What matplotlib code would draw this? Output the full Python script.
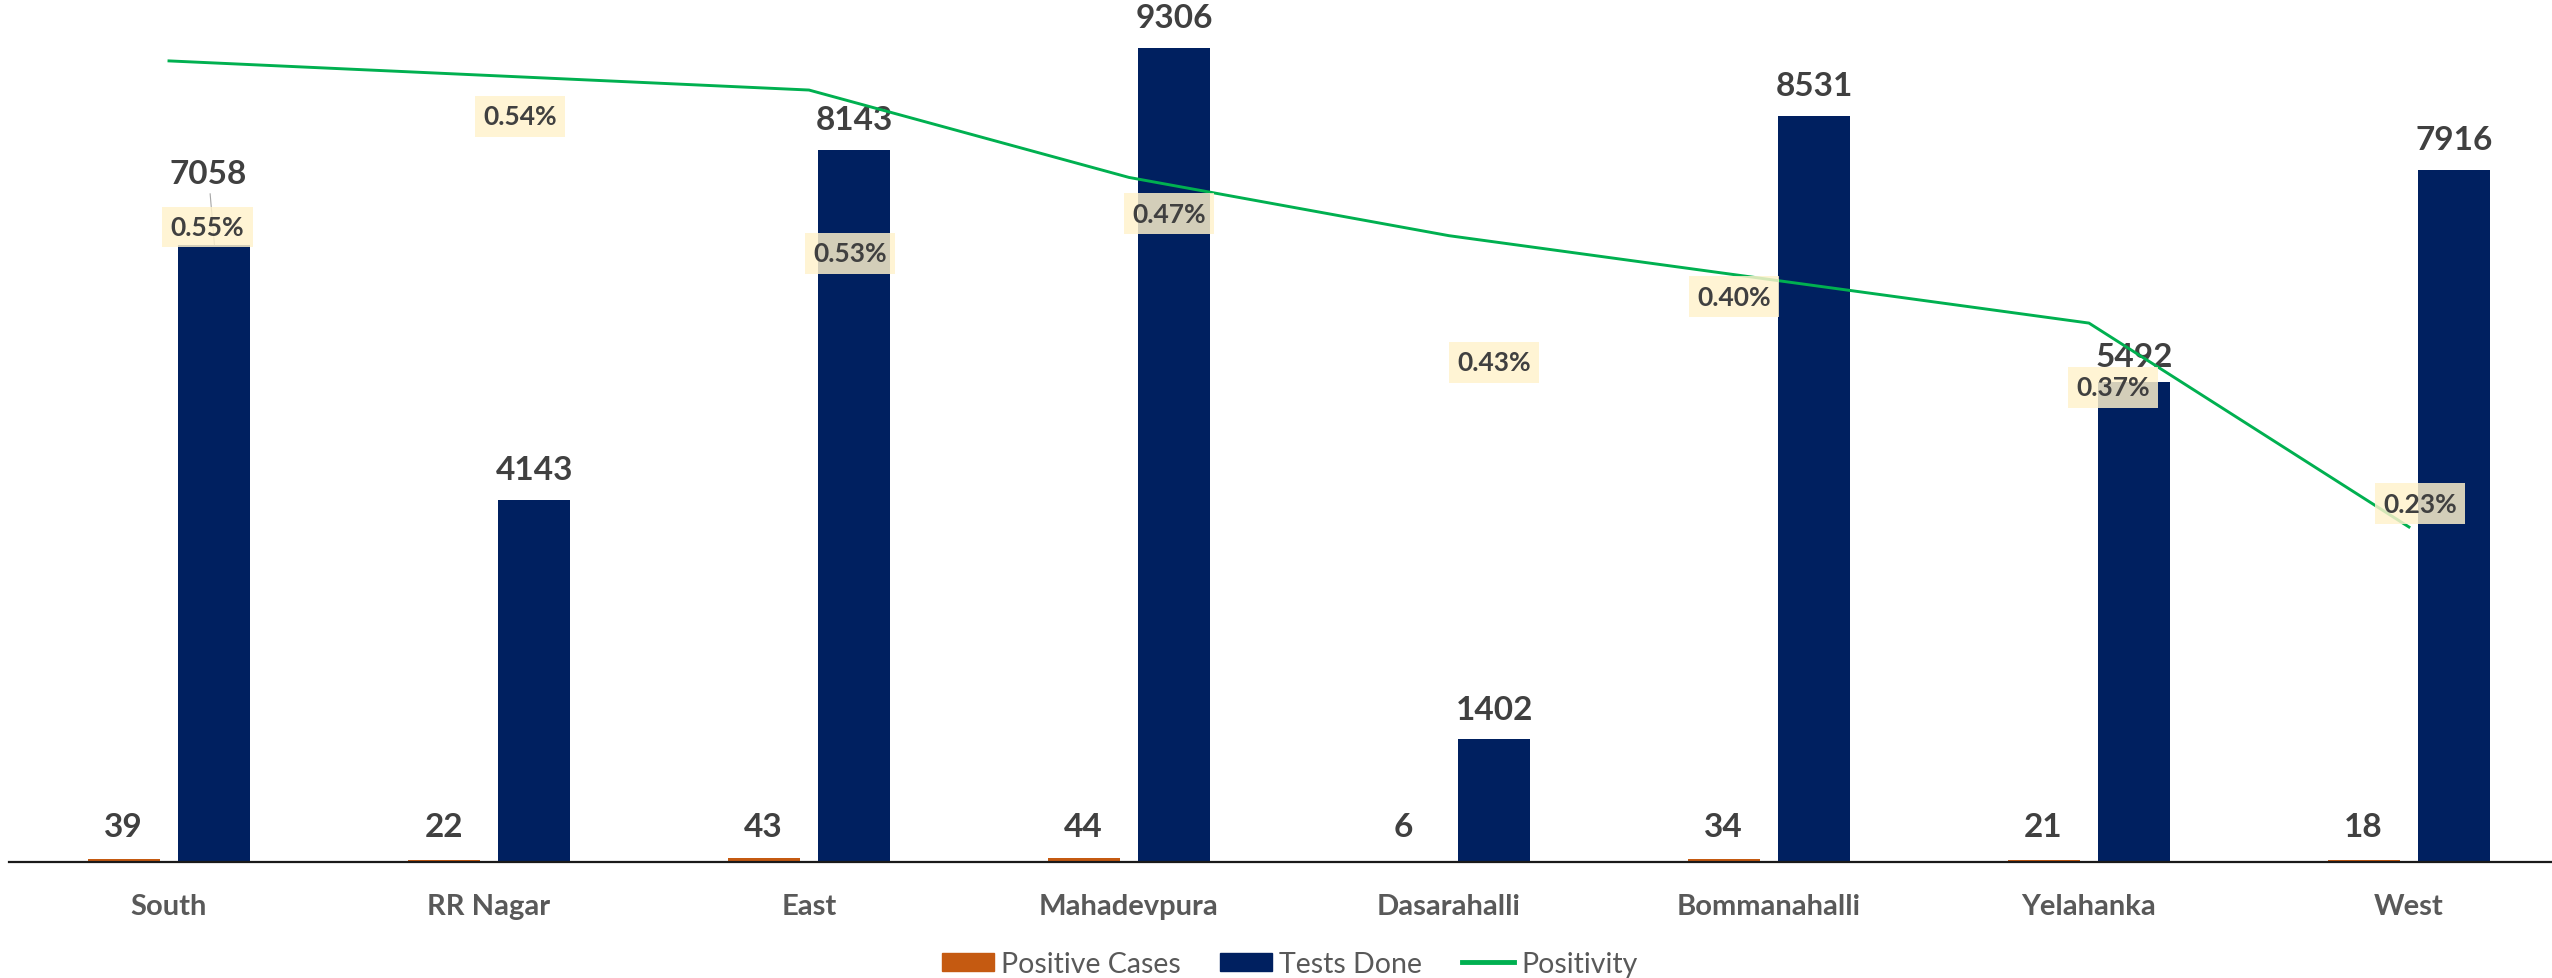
import numpy as np
import matplotlib
matplotlib.use('Agg')
import matplotlib.pyplot as plt
from matplotlib.patches import Patch
from matplotlib.lines import Line2D

plt.rcParams['font.family'] = ['Lato', 'DejaVu Sans']

# data
zones = ['South', 'RR Nagar', 'East', 'Mahadevpura', 'Dasarahalli',
         'Bommanahalli', 'Yelahanka', 'West']
positive = [39, 22, 43, 44, 6, 34, 21, 18]
tests = [7058, 4143, 8143, 9306, 1402, 8531, 5492, 7916]
positivity = [0.55, 0.54, 0.53, 0.47, 0.43, 0.40, 0.37, 0.23]  # percent

# colours
ORANGE = '#C55A11'
NAVY = '#002060'
GREEN = '#00B050'
VAL_COL = '#404040'
CAT_COL = '#595959'

# label layout (the labels were hand-placed in the original)
tests_lift = [71, 30, 30, 30, 30, 30, 25, 30]          # px above bar top
pct_dx = [0.12, 0.097, 0.128, 0.125, 0.14, -0.11, 0.075, 0.034]
pct_y = [0.436, 0.512, 0.418, 0.445, 0.343, 0.388, 0.326, 0.246]

W, H = 2552, 979
fig = plt.figure(figsize=(W / 100, H / 100), dpi=100)
ax = fig.add_axes([9 / W, 116 / H, 1 - 9 / W, 863 / H])

x = np.arange(len(zones))
bw, off = 0.225, 0.142
ax.bar(x - off, positive, bw, color=ORANGE, zorder=2)
ax.bar(x + off, tests, bw, color=NAVY, zorder=2)
ax.set_xlim(-0.5, 7.447)
ax.set_ylim(0, 9866)

for s in ['top', 'right', 'left']:
    ax.spines[s].set_visible(False)
ax.spines['bottom'].set_color('#1a1a1a')
ax.spines['bottom'].set_linewidth(1.6)
ax.set_yticks([])
ax.set_xticks(x, zones, fontsize=21, fontweight='bold', color=CAT_COL)
ax.tick_params(axis='x', length=0, pad=22)

# value labels on bars
for i in range(len(zones)):
    ax.annotate(str(positive[i]), (x[i] - off, 0), xytext=(0, 35),
                textcoords='offset pixels', ha='center', va='center',
                fontsize=24, fontweight='bold', color=VAL_COL)
    arrow = None
    if tests_lift[i] > 40:
        arrow = dict(arrowstyle='-', color='#a6a6a6', lw=0.8, shrinkA=2, shrinkB=0)
    ax.annotate(str(tests[i]), (x[i] + off, tests[i]), xytext=(-6 if arrow else 0, tests_lift[i]),
                textcoords='offset pixels', ha='center', va='center',
                fontsize=24, fontweight='bold', color=VAL_COL, arrowprops=arrow)

# positivity on secondary axis
ax2 = ax.twinx()
ax2.plot(x, positivity, color=GREEN, lw=2.1, zorder=3)
ax2.set_ylim(0, 0.5925)
ax2.set_yticks([])
for s in ax2.spines.values():
    s.set_visible(False)

for i, v in enumerate(positivity):
    ax2.text(x[i] + pct_dx[i], pct_y[i], f'{v:.2f}%', ha='center', va='center',
             fontsize=19, fontweight='bold', color=VAL_COL, zorder=5,
             bbox=dict(boxstyle='square,pad=0.32', fc='#FFF2CC', ec='none', alpha=0.83))

handles = [Patch(color=ORANGE), Patch(color=NAVY), Line2D([], [], color=GREEN, lw=3.5)]
fig.legend(handles, ['Positive Cases', 'Tests Done', 'Positivity'],
           loc='center', bbox_to_anchor=(0.5054, 0.0143), ncol=3, frameon=False,
           fontsize=20.5, handlelength=1.82, handleheight=0.6, handletextpad=0.25,
           columnspacing=1.4, labelcolor=CAT_COL)

fig.savefig('out.png', dpi=100)
